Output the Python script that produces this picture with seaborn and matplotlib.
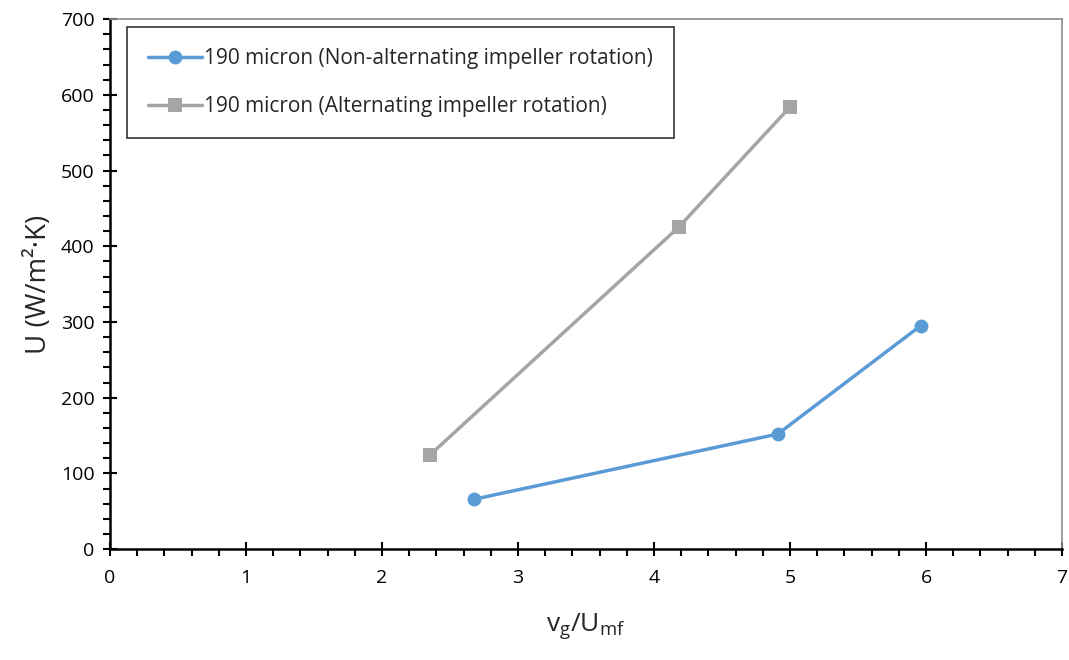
import matplotlib
matplotlib.use("Agg")
import matplotlib.pyplot as plt
import seaborn as sns
import pandas as pd
from matplotlib.ticker import MultipleLocator

sns.set_style("white")
plt.rcParams['font.family'] = ['Open Sans', 'DejaVu Sans']

labels = ["190 micron (Non-alternating impeller rotation)",
          "190 micron (Alternating impeller rotation)"]
x_non = [2.68, 4.91, 5.96]
u_non = [66, 152, 295]
x_alt = [2.35, 4.18, 5.0]
u_alt = [124, 425, 584]

df = pd.DataFrame({
    "x": x_non + x_alt,
    "U": u_non + u_alt,
    "series": [labels[0]] * len(x_non) + [labels[1]] * len(x_alt),
})

fig = plt.figure(figsize=(10.69, 6.6), dpi=100)
ax = fig.add_axes([0.1029, 0.168, 0.8906, 0.803])

palette = {labels[0]: "#5B9BD5", labels[1]: "#A5A5A5"}
markers = {labels[0]: "o", labels[1]: "s"}
sns.lineplot(data=df, x="x", y="U", hue="series", style="series",
             palette=palette, markers=markers, dashes=False, linewidth=2.5,
             markersize=10, markeredgewidth=0, ax=ax, sort=False)

ax.set_xlim(0, 7)
ax.set_ylim(0, 700)
ax.xaxis.set_major_locator(MultipleLocator(1))
ax.xaxis.set_minor_locator(MultipleLocator(0.2))
ax.yaxis.set_major_locator(MultipleLocator(100))
ax.yaxis.set_minor_locator(MultipleLocator(20))
ax.tick_params(axis="both", which="both", bottom=True, left=True, top=False, right=False)
ax.tick_params(axis="both", which="major", direction="inout", length=10, width=1.5,
               labelsize=14, colors="black", pad=6)
ax.tick_params(axis="both", which="minor", direction="out", length=5, width=1.5,
               colors="black")
ax.tick_params(axis="x", which="major", pad=9)

for s in ["left", "bottom"]:
    ax.spines[s].set_color("black")
    ax.spines[s].set_linewidth(1.8)
for s in ["top", "right"]:
    ax.spines[s].set_visible(True)
    ax.spines[s].set_color("#8c8c8c")
    ax.spines[s].set_linewidth(1.2)

ax.set_xlabel(r"v$_\mathregular{g}$/U$_\mathregular{mf}$", fontsize=19, labelpad=18)
ax.set_ylabel("U (W/m²·K)", fontsize=20, labelpad=6)

leg = ax.legend(loc="upper left", bbox_to_anchor=(0.018, 0.985), fontsize=15,
                frameon=True, fancybox=False, edgecolor="black",
                handlelength=2.6, borderpad=1.0, labelspacing=1.3,
                handletextpad=0.1, borderaxespad=0)
leg.get_frame().set_linewidth(1.2)

fig.savefig("out.png", dpi=100)
